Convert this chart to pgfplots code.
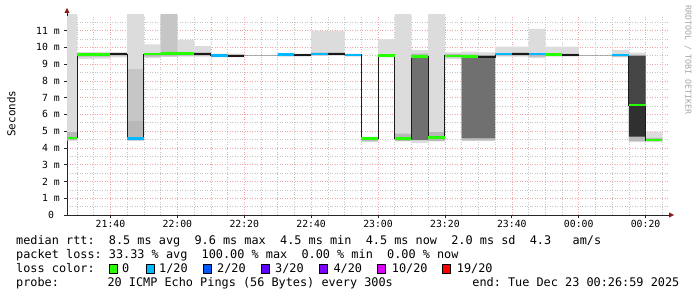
\documentclass[border=0pt]{standalone}
\usepackage{fontspec}
\setmainfont{DejaVu Sans Mono}
\usepackage{pgfplots}
\pgfplotsset{compat=1.18}
\usepackage{pgfplotstable}
\usepgfplotslibrary{fillbetween}
\frenchspacing
\definecolor{lgreen}{HTML}{26FF00}
\definecolor{lblue1}{HTML}{00B8FF}
\definecolor{lblue2}{HTML}{0059FF}
\definecolor{lpur3}{HTML}{5E00FF}
\definecolor{lpur4}{HTML}{7E00FF}
\definecolor{lmag}{HTML}{DD00FF}
\definecolor{lred}{HTML}{FF0000}
\definecolor{smokeA}{HTML}{DCDCDC}
\definecolor{smokeB}{HTML}{C6C6C6}
\definecolor{smokeC}{HTML}{B8B8B8}
\definecolor{smokeD}{HTML}{707070}
\definecolor{smokeE}{HTML}{454545}
\definecolor{smokeF}{HTML}{303030}
\definecolor{mgrid}{HTML}{F2A8A8}
\definecolor{ngrid}{HTML}{C4C4C4}
\definecolor{arrowred}{HTML}{8B1A1A}
\definecolor{medline}{HTML}{1A1A1A}

% smoke bands: x = start of 5-minute step (minutes after 21:00)
\pgfplotstableread{
x    alo  ahi   blo  bhi  clo  chi  dlo  dhi  elo  ehi  flo  fhi
25   4.45 12    4.6  4.6  4.45 4.95 4.6  4.6  4.6  4.6  4.6  4.6
30   9.30 9.72  9.59 9.59 9.45 9.65 9.59 9.59 9.59 9.59 9.59 9.59
35   9.33 9.72  9.59 9.59 9.45 9.65 9.59 9.59 9.59 9.59 9.59 9.59
40   9.40 9.72  9.6  9.6  9.50 9.66 9.6  9.6  9.6  9.6  9.6  9.6
45   4.45 12    4.45 8.7  4.45 5.6  4.58 4.58 4.58 4.58 4.58 4.58
50   9.35 10.18 9.6  9.6  9.45 9.66 9.6  9.6  9.6  9.6  9.6  9.6
55   9.45 12    9.45 12   9.50 9.75 9.6  9.6  9.6  9.6  9.6  9.6
60   9.45 10.44 9.6  9.6  9.50 9.70 9.6  9.6  9.6  9.6  9.6  9.6
65   9.45 10.08 9.6  9.6  9.50 9.70 9.6  9.6  9.6  9.6  9.6  9.6
70   9.40 9.62  9.5  9.5  9.45 9.58 9.5  9.5  9.5  9.5  9.5  9.5
75   9.40 9.62  9.5  9.5  9.45 9.58 9.5  9.5  9.5  9.5  9.5  9.5
80   9.5  9.5   9.5  9.5  9.5  9.5  9.5  9.5  9.5  9.5  9.5  9.5
85   9.5  9.5   9.5  9.5  9.5  9.5  9.5  9.5  9.5  9.5  9.5  9.5
90   9.45 9.65  9.5  9.5  9.50 9.60 9.5  9.5  9.5  9.5  9.5  9.5
95   9.45 9.62  9.5  9.5  9.50 9.60 9.5  9.5  9.5  9.5  9.5  9.5
100  9.50 10.98 9.6  9.6  9.52 9.68 9.6  9.6  9.6  9.6  9.6  9.6
105  9.50 10.98 9.6  9.6  9.55 9.70 9.6  9.6  9.6  9.6  9.6  9.6
110  9.45 9.62  9.5  9.5  9.50 9.60 9.5  9.5  9.5  9.5  9.5  9.5
115  4.35 4.68  4.5  4.5  4.40 4.55 4.5  4.5  4.5  4.5  4.5  4.5
120  9.40 10.48 9.5  9.5  9.45 9.60 9.5  9.5  9.5  9.5  9.5  9.5
125  4.40 12    4.5  4.5  4.40 4.85 4.5  4.5  4.5  4.5  4.5  4.5
130  4.30 9.84  9.5  9.5  9.45 9.62 4.47 9.45 9.5  9.5  9.5  9.5
135  4.40 12    4.6  4.6  4.40 4.95 4.6  4.6  4.6  4.6  4.6  4.6
140  9.30 9.70  9.5  9.5  9.40 9.60 9.5  9.5  9.5  9.5  9.5  9.5
145  4.40 9.74  9.5  9.5  4.45 9.58 4.58 9.45 9.5  9.5  9.5  9.5
150  4.40 9.70  9.5  9.5  4.45 9.52 4.58 9.39 9.5  9.5  9.5  9.5
155  9.45 10.04 9.6  9.6  9.50 9.65 9.6  9.6  9.6  9.6  9.6  9.6
160  9.45 10.04 9.6  9.6  9.50 9.70 9.6  9.6  9.6  9.6  9.6  9.6
165  9.35 11.10 9.6  9.6  9.45 9.65 9.6  9.6  9.6  9.6  9.6  9.6
170  9.45 10.04 9.6  9.6  9.50 9.62 9.6  9.6  9.6  9.6  9.6  9.6
175  9.45 10.04 9.6  9.6  9.50 9.62 9.6  9.6  9.6  9.6  9.6  9.6
180  9.5  9.5   9.5  9.5  9.5  9.5  9.5  9.5  9.5  9.5  9.5  9.5
185  9.5  9.5   9.5  9.5  9.5  9.5  9.5  9.5  9.5  9.5  9.5  9.5
190  9.40 9.84  9.5  9.5  9.45 9.60 9.5  9.5  9.5  9.5  9.5  9.5
195  4.34 9.68  9.5  9.5  4.40 9.55 9.5  9.5  6.56 9.49 4.67 6.56
200  4.35 4.97  4.5  4.5  4.40 4.60 4.5  4.5  4.5  4.5  4.5  4.5
205  4.35 4.97  4.5  4.5  4.40 4.60 4.5  4.5  4.5  4.5  4.5  4.5
}\smoke

\begin{document}
\begin{tikzpicture}
\begin{axis}[
  at={(0,0)}, anchor=south west,
  scale only axis, width=602bp, height=200bp,
  xmin=27, xmax=207, ymin=0, ymax=11.93,
  axis x line*=bottom, axis y line*=left,
  axis line style={black!85, line width=0.8bp},
  xtick={40,60,...,200},
  xticklabels={21:40,22:00,22:20,22:40,23:00,23:20,23:40,00:00,00:20},
  minor xtick={30,35,45,50,55,65,70,75,85,90,95,105,110,115,125,130,135,145,150,155,165,170,175,185,190,195,205},
  ytick={0,1,...,11},
  yticklabels={0~~,1~m,2~m,3~m,4~m,5~m,6~m,7~m,8~m,9~m,10~m,11~m},
  minor ytick={0.5,1.5,...,11.5},
  grid=both,
  major grid style={draw=mgrid, dash pattern=on 1bp off 1.5bp, line width=0.6bp},
  minor grid style={draw=ngrid, dash pattern=on 1bp off 1.5bp, line width=0.6bp},
  tick align=outside,
  major tick length=3bp, minor tick length=0bp,
  tick style={black!85, line width=0.7bp},
  ticklabel style={font=\fontsize{9.8bp}{10bp}\selectfont, inner sep=0pt},
  xticklabel style={yshift=-2bp},
  yticklabel style={xshift=-4bp},
]
% smoke
\addplot[draw=none, const plot, name path=ahi, forget plot] table[x=x,y=ahi]{\smoke};
\addplot[draw=none, const plot, name path=alo, forget plot] table[x=x,y=alo]{\smoke};
\addplot[fill=smokeA, draw=none, forget plot] fill between[of=ahi and alo];
\addplot[draw=none, const plot, name path=bhi, forget plot] table[x=x,y=bhi]{\smoke};
\addplot[draw=none, const plot, name path=blo, forget plot] table[x=x,y=blo]{\smoke};
\addplot[fill=smokeB, draw=none, forget plot] fill between[of=bhi and blo];
\addplot[draw=none, const plot, name path=chi, forget plot] table[x=x,y=chi]{\smoke};
\addplot[draw=none, const plot, name path=clo, forget plot] table[x=x,y=clo]{\smoke};
\addplot[fill=smokeC, draw=none, forget plot] fill between[of=chi and clo];
\addplot[draw=none, const plot, name path=dhi, forget plot] table[x=x,y=dhi]{\smoke};
\addplot[draw=none, const plot, name path=dlo, forget plot] table[x=x,y=dlo]{\smoke};
\addplot[fill=smokeD, draw=none, forget plot] fill between[of=dhi and dlo];
\addplot[draw=none, const plot, name path=ehi, forget plot] table[x=x,y=ehi]{\smoke};
\addplot[draw=none, const plot, name path=elo, forget plot] table[x=x,y=elo]{\smoke};
\addplot[fill=smokeE, draw=none, forget plot] fill between[of=ehi and elo];
\addplot[draw=none, const plot, name path=fhi, forget plot] table[x=x,y=fhi]{\smoke};
\addplot[draw=none, const plot, name path=flo, forget plot] table[x=x,y=flo]{\smoke};
\addplot[fill=smokeF, draw=none, forget plot] fill between[of=fhi and flo];

% median line (step)
\addplot[const plot, medline, line width=1bp, unbounded coords=jump] table {
x y
25 4.60
30 9.59
35 9.59
40 9.60
45 4.58
50 9.60
55 9.63
60 9.62
65 9.62
70 9.51
75 9.51
80 9.51
80 nan
90 9.57
95 9.55
100 9.60
105 9.62
110 9.55
115 4.57
120 9.53
125 4.57
130 9.45
135 4.61
140 9.49
145 9.44
150 9.41
155 9.60
160 9.62
165 9.60
170 9.57
175 9.55
180 9.55
180 nan
190 9.55
195 6.56
200 4.47
205 4.47
};
% median without loss colour
\addplot[medline, line width=2bp, unbounded coords=jump] coordinates {
(40,9.60)(45,9.60)(45,nan)
(65,9.62)(70,9.62)(70,nan)
(75,9.51)(80,9.51)(80,nan)
(95,9.55)(100,9.55)(100,nan)
(105,9.62)(110,9.62)(110,nan)
(150,9.41)(155,9.41)(155,nan)
(160,9.62)(165,9.62)(165,nan)
(175,9.55)(180,9.55)
};
% loss 0
\addplot[lgreen, line width=2.7bp, unbounded coords=jump] coordinates {
(25,4.60)(30,4.60)(30,nan)
(30,9.59)(40,9.59)(40,nan)
(50,9.60)(55,9.60)(55,nan)
(55,9.63)(60,9.63)(60,nan)
(60,9.62)(65,9.62)(65,nan)
(115,4.57)(120,4.57)(120,nan)
(120,9.53)(125,9.53)(125,nan)
(125,4.57)(130,4.57)(130,nan)
(130,9.45)(135,9.45)(135,nan)
(135,4.61)(140,4.61)(140,nan)
(140,9.49)(145,9.49)(145,nan)
(145,9.44)(150,9.44)(150,nan)
(170,9.57)(175,9.57)(175,nan)
(195,6.56)(200,6.56)(200,nan)
(200,4.47)(205,4.47)
};
% loss 1/20
\addplot[lblue1, line width=2.7bp, unbounded coords=jump] coordinates {
(45,4.58)(50,4.58)(50,nan)
(70,9.51)(75,9.51)(75,nan)
(90,9.57)(95,9.57)(95,nan)
(100,9.60)(105,9.60)(105,nan)
(110,9.55)(115,9.55)(115,nan)
(155,9.60)(160,9.60)(160,nan)
(165,9.60)(170,9.60)(170,nan)
(190,9.55)(195,9.55)
};
\end{axis}
% axis extension and arrows
\draw[black!85, line width=0.8bp] (0,199bp) -- (0,203bp);
\fill[arrowred] (-2.6bp,202bp) -- (2.6bp,202bp) -- (0,207bp) -- cycle;
\fill[arrowred] (602bp,-2.6bp) -- (602bp,2.6bp) -- (607bp,0) -- cycle;
% axis titles
\node[rotate=90, inner sep=0pt, font=\fontsize{10.9bp}{12bp}\selectfont] at (-55.7bp,101.3bp) {Seconds};
\node[rotate=-90, inner sep=0pt, text=black!35, font=\fontsize{8.3bp}{9bp}\selectfont] at (621bp,155bp) {RRDTOOL / TOBI OETIKER};
% legend
\begin{scope}[every node/.style={inner sep=0pt, anchor=base west, font=\fontsize{11.85bp}{14bp}\selectfont}]
\node at (-51bp,-29.5bp) {median~rtt:~~8.5~ms~avg~~9.6~ms~max~~4.5~ms~min~~4.5~ms~now~~2.0~ms~sd~~4.3~~~am/s};
\node at (-51bp,-43.5bp) {packet~loss:~33.33~\%~avg~~100.00~\%~max~~0.00~\%~min~~0.00~\%~now};
\node at (-51bp,-57.5bp) {loss~color:};
\filldraw[fill=lgreen, draw=black, line width=0.6bp] (42.3bp,-58bp) rectangle ++(8bp,8.6bp);
\node at (55bp,-57.5bp) {0};
\filldraw[fill=lblue1, draw=black, line width=0.6bp] (79bp,-58bp) rectangle ++(8bp,8.6bp);
\node at (92bp,-57.5bp) {1/20};
\filldraw[fill=lblue2, draw=black, line width=0.6bp] (136bp,-58bp) rectangle ++(8bp,8.6bp);
\node at (150bp,-57.5bp) {2/20};
\filldraw[fill=lpur3, draw=black, line width=0.6bp] (194bp,-58bp) rectangle ++(8bp,8.6bp);
\node at (208bp,-57.5bp) {3/20};
\filldraw[fill=lpur4, draw=black, line width=0.6bp] (252bp,-58bp) rectangle ++(8bp,8.6bp);
\node at (266.3bp,-57.5bp) {4/20};
\filldraw[fill=lmag, draw=black, line width=0.6bp] (310.3bp,-58bp) rectangle ++(8bp,8.6bp);
\node at (324.7bp,-57.5bp) {10/20};
\filldraw[fill=lred, draw=black, line width=0.6bp] (375.7bp,-58bp) rectangle ++(8bp,8.6bp);
\node at (389.7bp,-57.5bp) {19/20};
\node at (-51bp,-71.5bp) {probe:};
\node at (40.3bp,-71.5bp) {20~ICMP~Echo~Pings~(56~Bytes)~every~300s};
\node[anchor=base east] at (612.5bp,-71.5bp) {end:~Tue~Dec~23~00:26:59~2025};
\end{scope}
\path (-67bp,-82bp) rectangle (630bp,215bp);
\end{tikzpicture}
\end{document}
